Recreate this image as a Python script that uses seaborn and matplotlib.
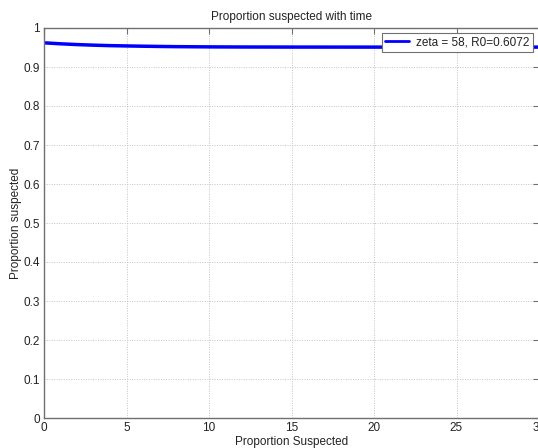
import matplotlib
matplotlib.use("Agg")
import matplotlib.pyplot as plt
import seaborn as sns
import pandas as pd

# Proportion suspected over time
time_vals = [0, 1, 2, 3, 4, 5, 6, 7, 8, 10, 12, 15, 20, 25, 30, 31]
suspected = [0.962, 0.9595, 0.9575, 0.956, 0.9548, 0.954, 0.9533, 0.9527, 0.9522,
             0.9516, 0.9513, 0.9511, 0.951, 0.951, 0.951, 0.951]
series_label = "zeta = 58, R0=0.6072"
x_ticks = [0, 5, 10, 15, 20, 25, 30]
y_ticks = [0, 0.1, 0.2, 0.3, 0.4, 0.5, 0.6, 0.7, 0.8, 0.9, 1]

sns.set_style("white")
plt.rcParams["font.family"] = ["Liberation Sans", "DejaVu Sans"]

W, H = 538, 448
fig = plt.figure(figsize=(W / 100, H / 100), dpi=100)
left, right, top, bottom = 44, 539, 28, 418
ax = fig.add_axes([left / W, 1 - bottom / H, (right - left) / W, (bottom - top) / H])

df = pd.DataFrame({"t": time_vals, "s": suspected, "series": series_label})
sns.lineplot(data=df, x="t", y="s", hue="series", palette=["#0000ff"],
             linewidth=2.5, ax=ax)

ax.set_xlim(0, 30)
ax.set_ylim(0, 1)
ax.set_xticks(x_ticks)
ax.set_yticks(y_ticks)
ax.set_xticklabels([str(v) for v in x_ticks])
ax.set_yticklabels(["0", "0.1", "0.2", "0.3", "0.4", "0.5", "0.6", "0.7", "0.8", "0.9", "1"])

ax.grid(True, linestyle=(0, (1, 1.5)), color="#c4c4c4", linewidth=0.7)
for sp in ax.spines.values():
    sp.set_visible(True)
    sp.set_color("#707070")
    sp.set_linewidth(1.0)
ax.tick_params(direction="in", length=4, width=0.8, color="#707070",
               top=True, right=True, labelsize=8.5, pad=3, labelcolor="#222222")

ax.set_title("Proportion suspected with time", fontsize=8.5, color="#222222", pad=6)
ax.set_xlabel("Proportion Suspected", fontsize=8.5, color="#222222", labelpad=1)
ax.set_ylabel("Proportion suspected", fontsize=8.5, color="#222222")
ax.yaxis.set_label_coords((22 - left) / (right - left), 0.5)

leg = ax.legend(loc="upper right",
                bbox_to_anchor=((533 - left) / (right - left), 1 - 5 / (bottom - top)),
                fontsize=8.5, frameon=True, fancybox=False, framealpha=1,
                edgecolor="#707070", handlelength=2.0, borderpad=0.3,
                borderaxespad=0.0, handletextpad=0.6)
leg.get_frame().set_linewidth(0.8)
for h in leg.get_lines():
    h.set_linewidth(2.0)
for t in leg.get_texts():
    t.set_color("#222222")

fig.savefig("out.png", dpi=100)
